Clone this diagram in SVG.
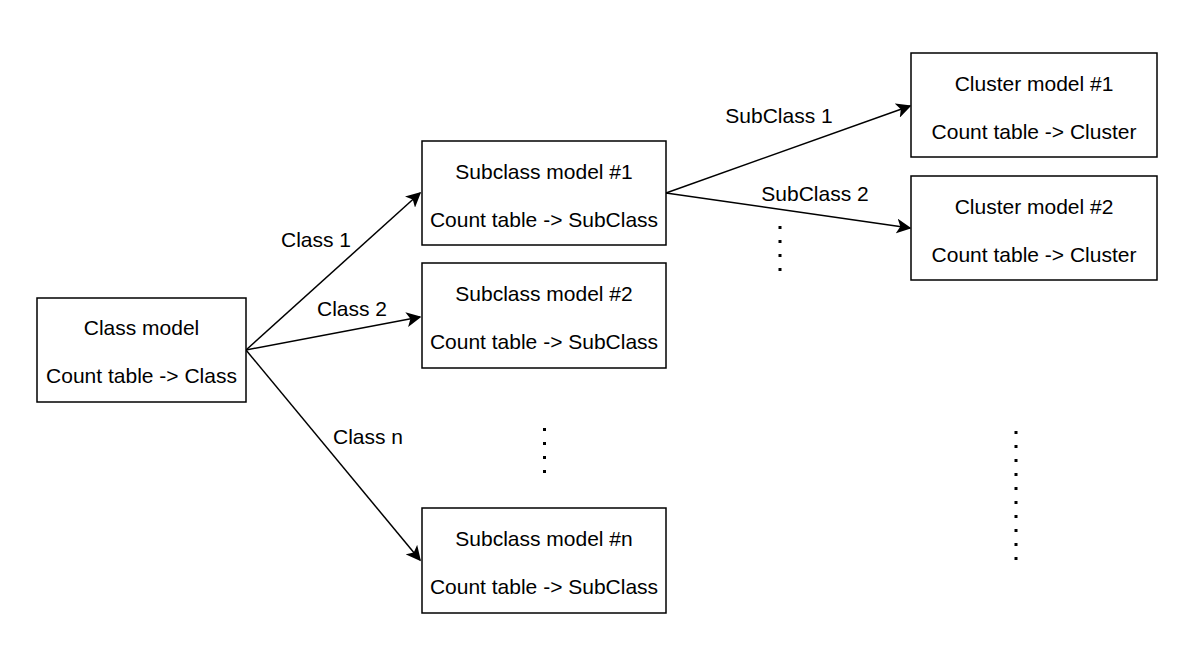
<svg xmlns="http://www.w3.org/2000/svg" width="1202" height="659" viewBox="0 0 1202 659">
<style>
.box{fill:#fff;stroke:#000;stroke-width:1.5}
.t{font-family:"Liberation Sans",Arial,sans-serif;font-size:21px;fill:#000;text-anchor:middle}
.e{stroke:#000;stroke-width:1.5;fill:none;marker-end:url(#ah)}
.dot{fill:#000}
</style>
<defs>
<marker id="ah" viewBox="0 0 10 10" refX="9" refY="5" markerWidth="15" markerHeight="15" markerUnits="userSpaceOnUse" orient="auto">
<path d="M0,0 L10,5 L0,10 L2.5,5 Z" fill="#000"/>
</marker>
</defs>
<rect width="1202" height="659" fill="#fff"/>
<g id="connectors">
<path class="e" d="M246,350 L420,193"/>
<path class="e" d="M246,350 L420,317"/>
<path class="e" d="M246,350 L420,560"/>
<path class="e" d="M666,193 L910,106"/>
<path class="e" d="M666,193 L910,228"/>
<text class="t" x="316" y="247">Class 1</text>
<text class="t" x="352" y="316">Class 2</text>
<text class="t" x="368" y="444">Class n</text>
<text class="t" x="779" y="123">SubClass 1</text>
<text class="t" x="815" y="201">SubClass 2</text>
</g>
<g id="class-model">
<rect class="box" x="37" y="298" width="209" height="104"/>
<text class="t" x="141.5" y="335">Class model</text>
<text class="t" x="141.5" y="383">Count table -&gt; Class</text>
</g>
<g id="subclass-1">
<rect class="box" x="422" y="141" width="244" height="104"/>
<text class="t" x="544" y="179">Subclass model #1</text>
<text class="t" x="544" y="227">Count table -&gt; SubClass</text>
</g>
<g id="subclass-2">
<rect class="box" x="422" y="263" width="244" height="105"/>
<text class="t" x="544" y="301">Subclass model #2</text>
<text class="t" x="544" y="349">Count table -&gt; SubClass</text>
</g>
<g id="subclass-n">
<rect class="box" x="422" y="508" width="244" height="105"/>
<text class="t" x="544" y="546">Subclass model #n</text>
<text class="t" x="544" y="594">Count table -&gt; SubClass</text>
</g>
<g id="cluster-1">
<rect class="box" x="911" y="53" width="246" height="104"/>
<text class="t" x="1034" y="91">Cluster model #1</text>
<text class="t" x="1034" y="139">Count table -&gt; Cluster</text>
</g>
<g id="cluster-2">
<rect class="box" x="911" y="176" width="246" height="104"/>
<text class="t" x="1034" y="214">Cluster model #2</text>
<text class="t" x="1034" y="262">Count table -&gt; Cluster</text>
</g>
<g id="dots">
<rect class="dot" x="778.5" y="226" width="3" height="3"/>
<rect class="dot" x="778.5" y="240" width="3" height="3"/>
<rect class="dot" x="778.5" y="254" width="3" height="3"/>
<rect class="dot" x="778.5" y="268" width="3" height="3"/>
<rect class="dot" x="543" y="428" width="3" height="3"/>
<rect class="dot" x="543" y="442" width="3" height="3"/>
<rect class="dot" x="543" y="456" width="3" height="3"/>
<rect class="dot" x="543" y="470" width="3" height="3"/>
<rect class="dot" x="1014.5" y="431" width="3" height="3"/>
<rect class="dot" x="1014.5" y="445" width="3" height="3"/>
<rect class="dot" x="1014.5" y="459" width="3" height="3"/>
<rect class="dot" x="1014.5" y="473" width="3" height="3"/>
<rect class="dot" x="1014.5" y="487" width="3" height="3"/>
<rect class="dot" x="1014.5" y="501" width="3" height="3"/>
<rect class="dot" x="1014.5" y="515" width="3" height="3"/>
<rect class="dot" x="1014.5" y="529" width="3" height="3"/>
<rect class="dot" x="1014.5" y="543" width="3" height="3"/>
<rect class="dot" x="1014.5" y="557" width="3" height="3"/>
</g>
</svg>
